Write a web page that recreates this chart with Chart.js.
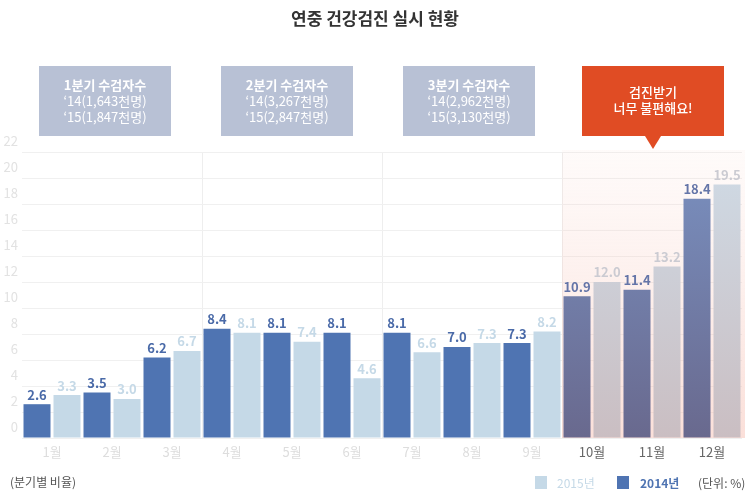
<!DOCTYPE html>
<html>
<head>
<meta charset="utf-8">
<script src="https://cdn.jsdelivr.net/npm/chart.js@4/dist/chart.umd.min.js"></script>
<style>
  body { margin: 0; background: #fff; }
  #wrap { width: 750px; height: 500px; position: relative; }
</style>
</head>
<body>
<div id="wrap"><canvas id="chkup" width="750" height="500"></canvas></div>
<script>
const months = ['1월','2월','3월','4월','5월','6월','7월','8월','9월','10월','11월','12월'];
const rate2014 = [2.6, 3.5, 6.2, 8.4, 8.1, 8.1, 8.1, 7.0, 7.3, 10.9, 11.4, 18.4];
const rate2015 = [3.3, 3.0, 6.7, 8.1, 7.4, 4.6, 6.6, 7.3, 8.2, 12.0, 13.2, 19.5];
const quarterNotes = [
    ['1분기 수검자수', '‘14(1,643천명)', '‘15(1,847천명)'],
    ['2분기 수검자수', '‘14(3,267천명)', '‘15(2,847천명)'],
    ['3분기 수검자수', '‘14(2,962천명)', '‘15(3,130천명)']
];
const calloutText = ['검진받기', '너무 불편해요!'];

const FONT = '"Noto Sans CJK KR", "Noto Sans", sans-serif';
Chart.defaults.font.family = FONT;

const barFill = (year) => (ctx) => {
    const chart = ctx.chart;
    const area = chart.chartArea;
    if (ctx.dataIndex < 9 || !area) {
        return year == 2014 ? '#4f74b2' : '#c5d9e7';
    }
    let g = chart.ctx.createLinearGradient(0, area.top, 0, area.bottom);
    if (year == 2014) {
        g.addColorStop(0, '#7a91c1');
        g.addColorStop(1, '#69698e');
    } else {
        g.addColorStop(0, '#cfdbe6');
        g.addColorStop(1, '#cabec2');
    }
    return g;
};

// 4분기 배경, 막대 위 숫자, 말풍선, 범례
const decorations = {
    id: 'decorations',
    beforeDatasetsDraw(chart) {
        const {ctx, chartArea, scales} = chart;
        const half = (scales.x.getPixelForValue(1) - scales.x.getPixelForValue(0)) / 2;
        const left = scales.x.getPixelForValue(9) - half;
        let g = ctx.createLinearGradient(0, chartArea.top, 0, chartArea.bottom);
        g.addColorStop(0, 'rgba(248,200,188,0.08)');
        g.addColorStop(1, 'rgba(245,180,165,0.42)');
        ctx.save();
        ctx.fillStyle = g;
        ctx.fillRect(left, chartArea.top - 2, chartArea.right + 3 - left, chartArea.bottom + 2 - chartArea.top);
        ctx.restore();
    },
    afterDatasetsDraw(chart) {
        const ctx = chart.ctx;
        ctx.save();
        ctx.font = 'bold 13px ' + FONT;
        ctx.textAlign = 'center';
        ctx.textBaseline = 'bottom';
        chart.data.datasets.forEach((ds, d) => {
            chart.getDatasetMeta(d).data.forEach((bar, i) => {
                if (d == 0) ctx.fillStyle = i < 9 ? '#4a6aa8' : '#6475a8';
                else ctx.fillStyle = i < 9 ? '#c5d9e7' : '#cbcbd2';
                ctx.fillText(ds.data[i].toFixed(1), bar.x, bar.y - 3);
            });
        });
        ctx.restore();
    },
    afterDraw(chart) {
        const {ctx, scales} = chart;
        const half = (scales.x.getPixelForValue(1) - scales.x.getPixelForValue(0)) / 2;
        ctx.save();
        // 제목
        ctx.fillStyle = '#333';
        ctx.font = 'bold 17px ' + FONT;
        ctx.textAlign = 'center';
        ctx.textBaseline = 'middle';
        ctx.fillText('연중 건강검진 실시 현황', 375, 19);

        // 분기 상자
        quarterNotes.forEach((lines, q) => {
            const qLeft = scales.x.getPixelForValue(q * 3) - half;
            const bx = qLeft + 17 + q * 2, bw = 132;
            ctx.fillStyle = '#b8c1d5';
            ctx.fillRect(bx, 66, bw, 70);
            ctx.fillStyle = '#fff';
            lines.forEach((t, k) => {
                ctx.font = (k == 0 ? 'bold ' : '') + '13px ' + FONT;
                ctx.fillText(t, bx + bw / 2, 85 + k * 16);
            });
        });

        // 4분기 말풍선
        const q4 = scales.x.getPixelForValue(9) - half;
        const cx = q4 + 20, cw = 142;
        const mid = cx + cw / 2;
        ctx.fillStyle = '#e04c24';
        ctx.fillRect(cx, 66, cw, 70);
        ctx.beginPath();
        ctx.moveTo(mid - 8, 136);
        ctx.lineTo(mid + 8, 136);
        ctx.lineTo(mid, 149);
        ctx.closePath();
        ctx.fill();
        ctx.fillStyle = '#fff';
        ctx.font = '500 13px ' + FONT;
        calloutText.forEach((t, k) => ctx.fillText(t, mid, 92 + k * 16));

        // 아래쪽 글
        ctx.textAlign = 'left';
        ctx.font = '12px ' + FONT;
        ctx.fillStyle = '#555';
        ctx.fillText('(분기별 비율)', 10, 482);
        ctx.fillText('(단위: %)', 698, 483);
        ctx.fillStyle = '#c5d9e7';
        ctx.fillRect(535, 476, 12, 13);
        ctx.fillText('2015년', 557, 483);
        ctx.fillStyle = '#4f74b2';
        ctx.fillRect(617, 476, 12, 13);
        ctx.font = 'bold 12px ' + FONT;
        ctx.fillText('2014년', 640, 483);
        ctx.restore();
    }
};

new Chart(document.getElementById('chkup'), {
    type: 'bar',
    data: {
        labels: months,
        datasets: [
            {label: '2014년', data: rate2014, backgroundColor: barFill(2014)},
            {label: '2015년', data: rate2015, backgroundColor: barFill(2015)}
        ]
    },
    options: {
        responsive: false,
        animation: false,
        devicePixelRatio: 1,
        layout: {padding: {top: 152, right: 8, bottom: 32, left: 0}},
        datasets: {bar: {barPercentage: 0.9, categoryPercentage: 1.0}},
        plugins: {legend: {display: false}, tooltip: {enabled: false}},
        scales: {
            x: {
                grid: {
                    offset: true,
                    drawTicks: false,
                    color: (c) => [3, 6, 9].includes(c.index) ? '#eeeeee' : 'rgba(0,0,0,0)'
                },
                border: {display: false},
                ticks: {
                    padding: 6,
                    font: {size: 13},
                    color: (c) => c.index < 9 ? '#dddddd' : '#666666'
                },
                afterFit: (s) => { s.height = 30; }
            },
            y: {
                min: 0,
                max: 22,
                grid: {drawTicks: false, color: '#f0f0f0'},
                border: {display: false},
                ticks: {stepSize: 2, padding: 4, labelOffset: -11, font: {size: 13}, color: '#e2e2e2'},
                afterFit: (s) => { s.width = 22; }
            }
        }
    },
    plugins: [decorations]
});
</script>
</body>
</html>
